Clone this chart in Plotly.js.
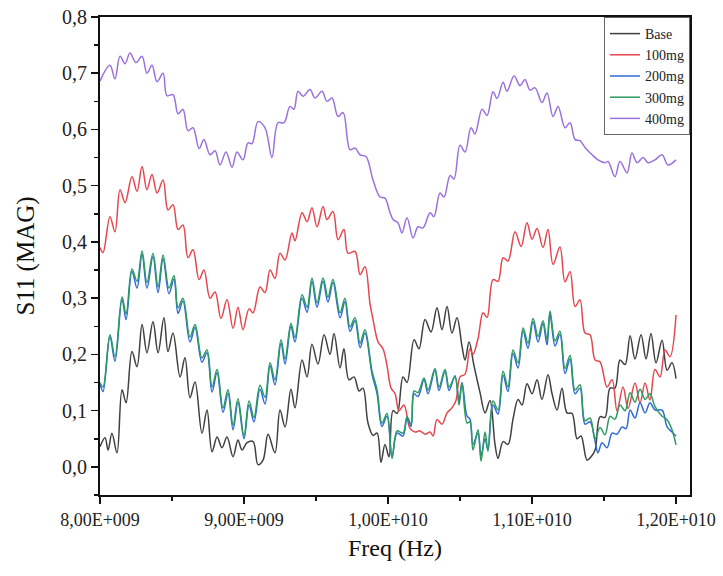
<!DOCTYPE html>
<html>
<head>
<meta charset="utf-8">
<script src="https://cdn.plot.ly/plotly-3.0.1.min.js"></script>
<style>
html,body{margin:0;padding:0;background:#fff;}
#chart{width:723px;height:576px;}
</style>
</head>
<body>
<div id="chart"></div>
<script>
// Frequencies in GHz (axis labelled in Hz via tick text), S11 magnitude values
var seriesNames = ['Base', '100mg', '200mg', '300mg', '400mg'];

var xBase = [8.000,8.035,8.056,8.083,8.118,8.153,8.181,8.222,8.257,8.292,8.326,8.368,8.403,8.444,8.472,8.507,8.556,8.590,8.625,8.660,8.708,8.743,8.778,8.813,8.847,8.882,8.924,8.958,8.986,9.021,9.063,9.097,9.132,9.167,9.215,9.250,9.285,9.326,9.354,9.403,9.438,9.472,9.514,9.556,9.597,9.625,9.667,9.694,9.729,9.764,9.799,9.826,9.861,9.896,9.924,9.951,9.979,10.007,10.035,10.063,10.104,10.132,10.181,10.215,10.257,10.299,10.340,10.375,10.410,10.444,10.479,10.514,10.535,10.563,10.597,10.639,10.674,10.708,10.743,10.764,10.799,10.833,10.868,10.903,10.931,10.965,11.000,11.035,11.069,11.111,11.139,11.174,11.208,11.243,11.278,11.313,11.340,11.382,11.410,11.438,11.472,11.507,11.542,11.576,11.611,11.646,11.681,11.715,11.757,11.792,11.826,11.861,11.903,11.938,11.972,12.000];
var yBase = [0.036,0.052,0.030,0.060,0.025,0.137,0.114,0.205,0.178,0.253,0.203,0.258,0.203,0.265,0.205,0.238,0.160,0.194,0.123,0.151,0.060,0.101,0.027,0.053,0.034,0.053,0.018,0.048,0.030,0.043,0.045,0.004,0.012,0.058,0.025,0.101,0.071,0.138,0.105,0.190,0.160,0.218,0.183,0.235,0.200,0.237,0.176,0.210,0.155,0.160,0.135,0.140,0.078,0.056,0.060,0.008,0.040,0.018,0.100,0.095,0.160,0.150,0.226,0.210,0.262,0.240,0.283,0.244,0.285,0.238,0.265,0.214,0.190,0.222,0.180,0.132,0.096,0.118,0.040,0.015,0.045,0.040,0.085,0.120,0.110,0.148,0.130,0.155,0.120,0.164,0.130,0.101,0.140,0.096,0.095,0.050,0.055,0.012,0.018,0.030,0.089,0.088,0.140,0.140,0.190,0.182,0.233,0.192,0.235,0.192,0.237,0.185,0.225,0.172,0.185,0.157];

var x100 = [8.000,8.021,8.069,8.104,8.139,8.174,8.222,8.257,8.292,8.326,8.361,8.396,8.438,8.472,8.507,8.542,8.576,8.611,8.646,8.688,8.722,8.764,8.799,8.840,8.882,8.924,8.958,8.993,9.035,9.063,9.111,9.146,9.181,9.215,9.250,9.285,9.333,9.354,9.403,9.438,9.472,9.507,9.549,9.576,9.618,9.653,9.694,9.722,9.771,9.806,9.840,9.875,9.896,9.931,9.965,9.993,10.021,10.049,10.076,10.111,10.153,10.188,10.222,10.257,10.292,10.313,10.340,10.375,10.410,10.444,10.472,10.500,10.535,10.569,10.590,10.625,10.660,10.688,10.729,10.764,10.799,10.833,10.882,10.924,10.965,11.000,11.035,11.076,11.111,11.146,11.194,11.229,11.264,11.299,11.333,11.368,11.403,11.438,11.472,11.521,11.556,11.590,11.632,11.667,11.715,11.750,11.785,11.819,11.854,11.889,11.924,11.958,12.000];
var y100 = [0.390,0.381,0.445,0.418,0.493,0.470,0.516,0.490,0.534,0.493,0.520,0.487,0.510,0.457,0.466,0.422,0.430,0.372,0.386,0.333,0.350,0.300,0.311,0.264,0.297,0.246,0.284,0.244,0.281,0.274,0.320,0.310,0.350,0.335,0.380,0.368,0.416,0.402,0.452,0.436,0.461,0.427,0.463,0.440,0.454,0.404,0.422,0.380,0.383,0.342,0.356,0.290,0.262,0.222,0.210,0.180,0.140,0.130,0.100,0.110,0.068,0.062,0.064,0.058,0.062,0.055,0.084,0.076,0.096,0.105,0.118,0.160,0.165,0.210,0.200,0.228,0.274,0.266,0.333,0.330,0.372,0.366,0.418,0.392,0.434,0.405,0.424,0.390,0.422,0.360,0.391,0.329,0.347,0.285,0.297,0.238,0.235,0.190,0.187,0.142,0.155,0.100,0.142,0.104,0.149,0.114,0.149,0.119,0.173,0.160,0.208,0.196,0.270];

var x200 = [8.000,8.021,8.069,8.104,8.153,8.181,8.222,8.257,8.292,8.326,8.368,8.403,8.438,8.479,8.514,8.542,8.576,8.625,8.660,8.708,8.743,8.778,8.813,8.854,8.889,8.924,8.958,9.000,9.035,9.069,9.111,9.146,9.181,9.215,9.257,9.285,9.326,9.354,9.403,9.438,9.472,9.507,9.549,9.583,9.618,9.667,9.701,9.736,9.771,9.806,9.840,9.889,9.924,9.958,9.993,10.028,10.063,10.104,10.132,10.160,10.181,10.208,10.250,10.278,10.326,10.354,10.396,10.424,10.465,10.493,10.514,10.549,10.569,10.590,10.625,10.646,10.674,10.694,10.729,10.764,10.799,10.833,10.868,10.903,10.938,10.972,11.007,11.042,11.076,11.104,11.125,11.160,11.194,11.229,11.264,11.299,11.333,11.368,11.403,11.438,11.458,11.486,11.521,11.556,11.590,11.625,11.653,11.681,11.715,11.750,11.785,11.819,11.854,11.903,11.938,11.972,12.000];
var y200 = [0.148,0.134,0.232,0.188,0.298,0.262,0.348,0.318,0.378,0.318,0.374,0.310,0.370,0.308,0.334,0.273,0.295,0.222,0.248,0.186,0.203,0.133,0.168,0.097,0.131,0.066,0.115,0.050,0.110,0.080,0.138,0.112,0.180,0.146,0.220,0.183,0.250,0.222,0.300,0.275,0.330,0.284,0.330,0.293,0.328,0.265,0.294,0.241,0.260,0.212,0.238,0.165,0.130,0.072,0.090,0.018,0.060,0.055,0.086,0.072,0.130,0.125,0.155,0.130,0.172,0.136,0.170,0.136,0.162,0.118,0.150,0.090,0.085,0.040,0.060,0.020,0.050,0.030,0.110,0.094,0.163,0.134,0.202,0.176,0.242,0.211,0.258,0.222,0.255,0.217,0.272,0.215,0.236,0.166,0.192,0.130,0.140,0.076,0.080,0.045,0.025,0.043,0.034,0.060,0.058,0.071,0.068,0.101,0.087,0.114,0.096,0.114,0.101,0.101,0.071,0.062,0.055];

var x300 = [8.000,8.021,8.069,8.104,8.153,8.181,8.222,8.257,8.292,8.326,8.368,8.403,8.438,8.479,8.514,8.542,8.576,8.625,8.660,8.708,8.743,8.778,8.813,8.854,8.889,8.924,8.958,9.000,9.035,9.069,9.111,9.146,9.181,9.215,9.257,9.285,9.326,9.354,9.403,9.438,9.472,9.507,9.549,9.583,9.618,9.667,9.701,9.736,9.771,9.806,9.840,9.889,9.924,9.958,9.993,10.028,10.063,10.104,10.132,10.160,10.181,10.208,10.250,10.278,10.326,10.354,10.396,10.424,10.465,10.493,10.514,10.549,10.569,10.590,10.625,10.646,10.674,10.694,10.729,10.764,10.799,10.833,10.868,10.903,10.938,10.972,11.007,11.042,11.076,11.104,11.125,11.160,11.194,11.229,11.264,11.299,11.333,11.368,11.403,11.438,11.472,11.507,11.542,11.576,11.611,11.646,11.681,11.715,11.750,11.785,11.819,11.854,11.903,11.938,11.972,12.000];
var y300 = [0.150,0.142,0.235,0.196,0.302,0.272,0.352,0.330,0.384,0.328,0.380,0.320,0.377,0.318,0.340,0.283,0.300,0.231,0.253,0.194,0.208,0.142,0.173,0.105,0.137,0.074,0.121,0.055,0.117,0.088,0.145,0.124,0.185,0.155,0.226,0.192,0.255,0.230,0.306,0.284,0.336,0.292,0.336,0.302,0.333,0.274,0.300,0.249,0.265,0.220,0.244,0.170,0.137,0.078,0.095,0.015,0.064,0.060,0.089,0.076,0.135,0.132,0.158,0.137,0.175,0.142,0.173,0.142,0.160,0.110,0.149,0.078,0.080,0.030,0.066,0.010,0.062,0.028,0.117,0.101,0.170,0.142,0.208,0.185,0.247,0.220,0.264,0.232,0.260,0.226,0.277,0.224,0.241,0.175,0.198,0.137,0.146,0.082,0.087,0.050,0.070,0.057,0.090,0.085,0.110,0.100,0.132,0.115,0.138,0.120,0.130,0.107,0.090,0.084,0.066,0.039];

var x400 = [8.000,8.069,8.104,8.139,8.174,8.208,8.250,8.292,8.326,8.361,8.396,8.438,8.465,8.507,8.542,8.576,8.611,8.646,8.688,8.722,8.764,8.799,8.833,8.875,8.917,8.951,8.993,9.028,9.056,9.097,9.146,9.194,9.236,9.278,9.319,9.347,9.375,9.410,9.458,9.493,9.542,9.576,9.611,9.653,9.688,9.736,9.771,9.806,9.847,9.896,9.944,9.979,10.014,10.035,10.069,10.097,10.132,10.174,10.208,10.243,10.292,10.319,10.361,10.389,10.431,10.458,10.500,10.535,10.576,10.604,10.653,10.688,10.729,10.757,10.799,10.826,10.875,10.917,10.951,10.986,11.021,11.069,11.104,11.146,11.181,11.229,11.264,11.299,11.333,11.368,11.417,11.458,11.507,11.528,11.576,11.611,11.660,11.694,11.729,11.771,11.806,11.854,11.903,11.944,12.000];
var y400 = [0.686,0.714,0.690,0.730,0.717,0.736,0.719,0.730,0.700,0.714,0.685,0.700,0.660,0.662,0.628,0.636,0.598,0.603,0.566,0.582,0.555,0.562,0.537,0.560,0.533,0.560,0.546,0.576,0.575,0.614,0.603,0.550,0.612,0.612,0.641,0.636,0.668,0.659,0.671,0.656,0.668,0.650,0.656,0.623,0.630,0.564,0.567,0.555,0.552,0.510,0.480,0.478,0.452,0.440,0.434,0.416,0.443,0.407,0.427,0.425,0.452,0.445,0.487,0.480,0.518,0.512,0.572,0.560,0.603,0.592,0.636,0.625,0.667,0.655,0.684,0.668,0.695,0.678,0.689,0.670,0.674,0.648,0.665,0.623,0.641,0.603,0.612,0.582,0.580,0.568,0.555,0.546,0.541,0.543,0.516,0.543,0.523,0.558,0.541,0.550,0.541,0.546,0.555,0.537,0.546];

var xTickVals = [8, 9, 10, 11, 12];
var xTickText = ['8,00E+009', '9,00E+009', '1,00E+010', '1,10E+010', '1,20E+010'];
var yTickVals = [0, 0.1, 0.2, 0.3, 0.4, 0.5, 0.6, 0.7, 0.8];
var yTickText = ['0,0', '0,1', '0,2', '0,3', '0,4', '0,5', '0,6', '0,7', '0,8'];

var colors = ['#404040', '#e5474e', '#2f6bd6', '#2e9a62', '#9a72dc'];
var xs = [xBase, x100, x200, x300, x400];
var ys = [yBase, y100, y200, y300, y400];

var traces = seriesNames.map(function (n, i) {
  return {
    type: 'scatter', mode: 'lines', name: n,
    x: xs[i], y: ys[i],
    line: {color: colors[i], width: 1.5, shape: 'spline', smoothing: 1}
  };
});

var serif = 'Liberation Serif, Times New Roman, serif';
var layout = {
  width: 723, height: 576,
  margin: {l: 100, r: 33, t: 17, b: 81},
  paper_bgcolor: '#fff', plot_bgcolor: '#fff',
  showlegend: true,
  legend: {
    x: 1, xanchor: 'right', y: 1, yanchor: 'top',
    bgcolor: '#fff', bordercolor: '#666', borderwidth: 1,
    font: {family: serif, size: 14, color: '#222'},
    tracegroupgap: 0, itemwidth: 30
  },
  xaxis: {
    range: [8, 12.097], showgrid: false, zeroline: false,
    tickmode: 'array', tickvals: xTickVals, ticktext: xTickText,
    ticks: 'outside', ticklen: 7, tickwidth: 1.5, tickcolor: '#111',
    showline: true, linecolor: '#111', linewidth: 2, mirror: true,
    tickfont: {family: serif, size: 18, color: '#222'},
    minor: {ticks: 'outside', ticklen: 4, tickwidth: 1.5, tickcolor: '#111', tickmode: 'linear', tick0: 8, dtick: 0.5},
    title: {text: 'Freq (Hz)', font: {family: serif, size: 24, color: '#111'}, standoff: 11}
  },
  yaxis: {
    range: [-0.05, 0.8], showgrid: false, zeroline: false,
    tickmode: 'array', tickvals: yTickVals, ticktext: yTickText,
    ticks: 'outside', ticklen: 7, tickwidth: 1.5, tickcolor: '#111',
    showline: true, linecolor: '#111', linewidth: 2, mirror: true,
    tickfont: {family: serif, size: 20, color: '#222'},
    minor: {ticks: 'outside', ticklen: 4, tickwidth: 1.5, tickcolor: '#111', tickmode: 'linear', tick0: 0, dtick: 0.05},
    title: {text: 'S11 (MAG)', font: {family: serif, size: 25, color: '#111'}, standoff: 20}
  }
};

Plotly.newPlot('chart', traces, layout, {displayModeBar: false, staticPlot: true});
</script>
</body>
</html>
